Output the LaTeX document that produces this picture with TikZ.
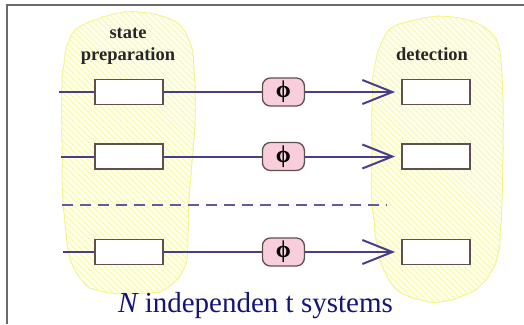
\documentclass[tikz,border=0pt]{standalone}
\usepackage{fontspec}
\setmainfont{Liberation Serif}
\usetikzlibrary{positioning}
\usetikzlibrary{arrows.meta}
\usetikzlibrary{patterns.meta}
\usetikzlibrary{decorations.pathmorphing}

\definecolor{linecol}{RGB}{72,60,140}
\definecolor{boxcol}{RGB}{95,80,78}
\definecolor{phasecol}{RGB}{248,205,220}
\definecolor{hatchcol}{RGB}{247,247,165}
\definecolor{blobfill}{RGB}{254,254,236}
\definecolor{blobline}{RGB}{242,242,125}
\definecolor{framecol}{RGB}{110,105,105}
\definecolor{textcol}{RGB}{20,20,120}

\tikzset{
  sysline/.style={draw=linecol, line width=2pt},
  sysarrow/.style={sysline, -{Straight Barb[length=30pt,width=24pt]}, shorten >=6pt},
  partbox/.style={draw=boxcol, line width=1.5pt, fill=white, minimum width=68pt,
    minimum height=25pt, inner sep=0pt},
  phase/.style={draw=boxcol, line width=1.3pt, fill=phasecol, rounded corners=8pt,
    minimum width=42pt, minimum height=28pt, inner sep=0pt,
    font=\fontsize{24}{24}\selectfont\bfseries},
  blob/.style={draw=blobline, line width=0.8pt, fill=blobfill,
    decorate, decoration={random steps, segment length=6pt, amplitude=0.4pt},
    postaction={pattern={Lines[angle=-45,distance=4pt,line width=1.1pt]},
      pattern color=hatchcol}},
  stagetext/.style={font=\fontsize{18.5}{22}\selectfont\bfseries, text=black!85,
    align=center, inner sep=0pt},
  frame/.style={draw=framecol, line width=2pt}
}

\begin{document}
\begin{tikzpicture}[x=1pt, y=-1pt]
  \useasboundingbox (0,0) rectangle (524,324);
  \fill[white] (0,0) rectangle (524,324);
  \draw[frame] (7,324) |- (524,5);

  % hatched regions
  \path[blob] plot[smooth cycle] coordinates {(62,150) (63,70) (76,30) (125,12)
    (172,20) (192,50) (195,120) (189,200) (186,262) (165,289) (128,294)
    (90,287) (70,258) (63,200)};
  \path[blob] plot[smooth cycle] coordinates {(372,150) (374,70) (390,30)
    (432,17) (472,21) (497,42) (503,100) (502,200) (497,258) (476,289)
    (438,302) (400,292) (380,260) (372,200)};

  \node[stagetext, anchor=base] (prep) at (128,60) {state\\preparation};
  \node[stagetext, anchor=base] (det) at (432,60) {detection};

  % first system
  \node[partbox] (prepA) at (129,92) {};
  \node[phase, right=98pt of prepA] (phaseA) {ϕ};
  \node[partbox, right=96pt of phaseA] (detA) {};
  \coordinate[left=35pt of prepA] (inA);

  % second system
  \node[partbox, below=38pt of prepA] (prepB) {};
  \node[phase, right=98pt of prepB] (phaseB) {ϕ};
  \node[partbox, right=96pt of phaseB] (detB) {};
  \coordinate[left=33pt of prepB] (inB);

  % last system
  \node[partbox, below=69pt of prepB] (prepC) {};
  \node[phase, right=98pt of prepC] (phaseC) {ϕ};
  \node[partbox, right=96pt of phaseC] (detC) {};
  \coordinate[left=31pt of prepC] (inC);

  \draw[sysline] (inA) -- (prepA) (prepA) -- (phaseA);
  \draw[sysarrow] (phaseA) -- (detA);
  \draw[sysline] (inB) -- (prepB) (prepB) -- (phaseB);
  \draw[sysarrow] (phaseB) -- (detB);
  \draw[sysline] (inC) -- (prepC) (prepC) -- (phaseC);
  \draw[sysarrow] (phaseC) -- (detC);

  \coordinate (dashL) at (62,205);
  \coordinate (dashR) at (387,205);
  \draw[draw=linecol!85, line width=1.8pt, dash pattern=on 11pt off 7pt] (dashL) -- (dashR);

  \node[anchor=base west, text=textcol, inner sep=0pt,
    font=\fontsize{29}{29}\selectfont] (label) at (118,312)
    {\itshape N\upshape{} independen t systems};
\end{tikzpicture}
\end{document}
